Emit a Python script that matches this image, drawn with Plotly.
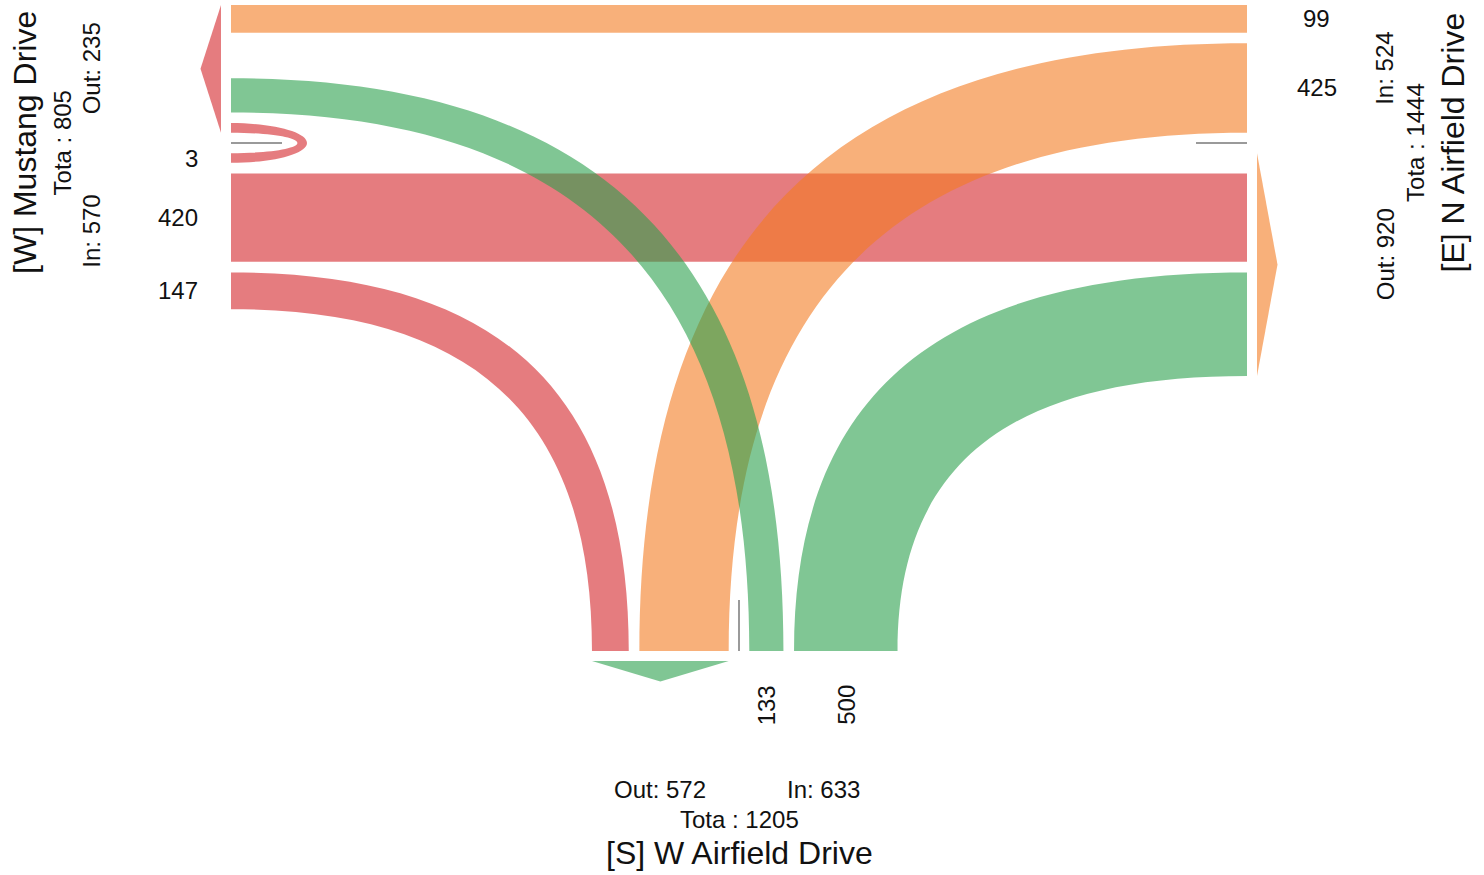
import plotly.graph_objects as go

# ---------------- data ----------------
approach_codes = ["W", "E", "S"]
approach_names = ["[W] Mustang Drive", "[E] N Airfield Drive", "[S] W Airfield Drive"]
move_from = ["W", "W", "W", "E", "E", "E", "S", "S", "S"]
move_to = ["W", "E", "S", "W", "S", "E", "W", "E", "S"]
volumes = [3, 420, 147, 99, 425, 0, 133, 500, 0]
total_prefix = "Tota : "

# ---------------- style / layout constants ----------------
colors = {"W": "rgba(212,37,42,0.6)", "E": "rgba(243,123,33,0.6)", "S": "rgba(43,160,77,0.6)"}
FONT = "Liberation Sans, Arial, Helvetica, sans-serif"
XW, XE, YS, YTOP = 231.0, 1247.0, 651.0, 5.0
MIN_W, K = 9.0, 0.189
GAP, MEDIAN = 10.6, 20.6
F = 0.68            # bezier control fraction for turns
KAPPA = 0.5523
LOOP_LEN = 76.0
ARROW_GAP, ARROW_LEN = 10.0, 20.5

vol = {(f, t): v for f, t, v in zip(move_from, move_to, volumes)}
name = dict(zip(approach_codes, approach_names))
inflow = {a: sum(v for (f, t), v in vol.items() if f == a) for a in approach_codes}
outflow = {a: sum(v for (f, t), v in vol.items() if t == a) for a in approach_codes}


def bw(v):
    return MIN_W + K * v


def stack(start, keys, direction):
    """stack bands from start; direction +1 increases coordinate, -1 decreases"""
    res, c, first = {}, start, True
    for k in keys:
        v = vol[k]
        if v <= 0:
            continue
        if not first:
            c += direction * GAP
        a, b = c, c + direction * bw(v)
        res[k] = (min(a, b), max(a, b))
        c = b
        first = False
    return res, c


# horizontal road (y positions)
E_in, M1 = stack(YTOP, [("E", "W"), ("E", "S"), ("E", "E")], +1)
M2 = M1 + MEDIAN
YMID = M1 + MEDIAN / 2
W_in, w_in_end = stack(M2, [("W", "W"), ("W", "E"), ("W", "S")], +1)
W_out, _ = stack(M1, [("W", "W"), ("S", "W")], -1)
W_out[("E", "W")] = E_in[("E", "W")]
E_out = {("W", "E"): W_in[("W", "E")]}
more, e_out_end = stack(W_in[("W", "E")][1] + GAP, [("S", "E")], +1)
E_out.update(more)

# vertical road (x positions)
XMID = (XW + XE) / 2
SM1, SM2 = XMID - MEDIAN / 2, XMID + MEDIAN / 2
S_out, s_out_end = stack(SM1, [("S", "S"), ("E", "S"), ("W", "S")], -1)
S_in, s_in_end = stack(SM2, [("S", "S"), ("S", "W"), ("S", "E")], +1)


def p(x, y):
    return f"{x:.2f},{y:.2f}"


def rect_path(x0, x1, y0, y1):
    return f"M {p(x0, y0)} L {p(x1, y0)} L {p(x1, y1)} L {p(x0, y1)} Z"


def turn_path(xedge, y_outer, y_inner, x_outer, x_inner):
    """band from a horizontal approach edge (x=xedge) to the south edge (y=YS)"""
    def edge(y0, x1):
        c1 = (xedge + F * (x1 - xedge), y0)
        c2 = (x1, YS + F * (y0 - YS))
        return c1, c2
    c1, c2 = edge(y_outer, x_outer)
    d1, d2 = edge(y_inner, x_inner)
    return (f"M {p(xedge, y_outer)} C {p(*c1)} {p(*c2)} {p(x_outer, YS)} "
            f"L {p(x_inner, YS)} C {p(*d2)} {p(*d1)} {p(xedge, y_inner)} Z")


def half_ellipse(x0, yc, rx, ry, reverse=False):
    pts = [(x0, yc - ry), (x0 + KAPPA * rx, yc - ry), (x0 + rx, yc - KAPPA * ry), (x0 + rx, yc),
           (x0 + rx, yc + KAPPA * ry), (x0 + KAPPA * rx, yc + ry), (x0, yc + ry)]
    if reverse:
        pts = pts[::-1]
    return pts


shapes = []


def add_path(path, color):
    shapes.append(dict(type="path", path=path, xref="x", yref="y",
                       fillcolor=color, line=dict(width=0), layer="above"))


# --- W flows (red) ---
ua, ub = W_out[("W", "W")], W_in[("W", "W")]
yc_o, ry_o = (ua[0] + ub[1]) / 2, (ub[1] - ua[0]) / 2
yc_i, ry_i = (ua[1] + ub[0]) / 2, (ub[0] - ua[1]) / 2
outer = half_ellipse(XW, yc_o, LOOP_LEN, ry_o)
inner = half_ellipse(XW, yc_i, LOOP_LEN - bw(vol[("W", "W")]), ry_i, reverse=True)
loop = (f"M {p(*outer[0])} C {p(*outer[1])} {p(*outer[2])} {p(*outer[3])} "
        f"C {p(*outer[4])} {p(*outer[5])} {p(*outer[6])} L {p(*inner[0])} "
        f"C {p(*inner[1])} {p(*inner[2])} {p(*inner[3])} C {p(*inner[4])} {p(*inner[5])} {p(*inner[6])} Z")
add_path(loop, colors["W"])
y0, y1 = W_in[("W", "E")]
add_path(rect_path(XW, XE, y0, y1), colors["W"])
ya, yb = W_in[("W", "S")]
xa, xb = S_out[("W", "S")]
add_path(turn_path(XW, ya, yb, xb, xa), colors["W"])

# --- E flows (orange) ---
y0, y1 = E_in[("E", "W")]
add_path(rect_path(XW, XE, y0, y1), colors["E"])
ya, yb = E_in[("E", "S")]
xa, xb = S_out[("E", "S")]
add_path(turn_path(XE, ya, yb, xa, xb), colors["E"])

# --- S flows (green) ---
ya, yb = W_out[("S", "W")]
xa, xb = S_in[("S", "W")]
add_path(turn_path(XW, ya, yb, xb, xa), colors["S"])
ya, yb = E_out[("S", "E")]
xa, xb = S_in[("S", "E")]
add_path(turn_path(XE, ya, yb, xa, xb), colors["S"])

# --- outbound arrows ---
w_lo = min(v[0] for v in W_out.values())
add_path(f"M {p(XW - ARROW_GAP, w_lo)} L {p(XW - ARROW_GAP, M1)} "
         f"L {p(XW - ARROW_GAP - ARROW_LEN, (w_lo + M1) / 2)} Z", colors["W"])
add_path(f"M {p(XE + ARROW_GAP, M2)} L {p(XE + ARROW_GAP, e_out_end)} "
         f"L {p(XE + ARROW_GAP + ARROW_LEN, (M2 + e_out_end) / 2)} Z", colors["E"])
add_path(f"M {p(s_out_end, YS + ARROW_GAP)} L {p(SM1, YS + ARROW_GAP)} "
         f"L {p((s_out_end + SM1) / 2, YS + ARROW_GAP + ARROW_LEN)} Z", colors["S"])

# --- median markers ---
MED_LEN = 51
gray = dict(color="#9a9a9a", width=2)
shapes.append(dict(type="line", x0=XW, x1=XW + MED_LEN, y0=YMID, y1=YMID, xref="x", yref="y", line=gray))
shapes.append(dict(type="line", x0=XE - MED_LEN, x1=XE, y0=YMID, y1=YMID, xref="x", yref="y", line=gray))
shapes.append(dict(type="line", x0=XMID, x1=XMID, y0=YS - MED_LEN, y1=YS, xref="x", yref="y", line=gray))

# ---------------- annotations ----------------
ann = []


def txt(x, y, text, size=24, angle=0, xa="center", ya="middle"):
    ann.append(dict(x=x, y=y, xref="x", yref="y", text=text, showarrow=False,
                    textangle=angle, xanchor=xa, yanchor=ya,
                    font=dict(family=FONT, size=size, color="#111111")))


for k, (a, b) in W_in.items():
    txt(XW - 31, (a + b) / 2, str(vol[k]), xa="right")
for k, (a, b) in E_in.items():
    txt(XE + 69.5, (a + b) / 2, str(vol[k]))
for k, (a, b) in S_in.items():
    txt((a + b) / 2, YS + 32, str(vol[k]), angle=-90, ya="top")

# W summary
txt(XW - 206, YMID, name["W"], size=32, angle=-90)
txt(XW - 168.5, YMID, f"{total_prefix}{inflow['W'] + outflow['W']}", angle=-90)
txt(XW - 139.5, (w_lo + M1) / 2, f"Out: {outflow['W']}", angle=-90)
txt(XW - 139.5, (M2 + w_in_end) / 2, f"In: {inflow['W']}", angle=-90)
# E summary
txt(XE + 205.5, YMID, name["E"], size=32, angle=-90)
txt(XE + 169, YMID, f"{total_prefix}{inflow['E'] + outflow['E']}", angle=-90)
txt(XE + 138, (YTOP + M1) / 2, f"In: {inflow['E']}", angle=-90)
txt(XE + 138, (M1 + e_out_end) / 2, f"Out: {outflow['E']}", angle=-90)
# S summary
txt((s_out_end + SM1) / 2, YS + 138, f"Out: {outflow['S']}")
txt((SM2 + s_in_end) / 2, YS + 138, f"In: {inflow['S']}")
txt(XMID, YS + 168, f"{total_prefix}{inflow['S'] + outflow['S']}")
txt(XMID, YS + 202, name["S"], size=32)

fig = go.Figure()
fig.update_layout(
    width=1484, height=875, autosize=False,
    margin=dict(l=0, r=0, t=0, b=0, pad=0),
    paper_bgcolor="white", plot_bgcolor="white",
    xaxis=dict(range=[0, 1484], visible=False, fixedrange=True),
    yaxis=dict(range=[875, 0], visible=False, fixedrange=True),
    shapes=shapes, annotations=ann, showlegend=False,
)
fig.write_html("out.html", config={"displayModeBar": False},
               post_script="document.body.style.margin='0';")
